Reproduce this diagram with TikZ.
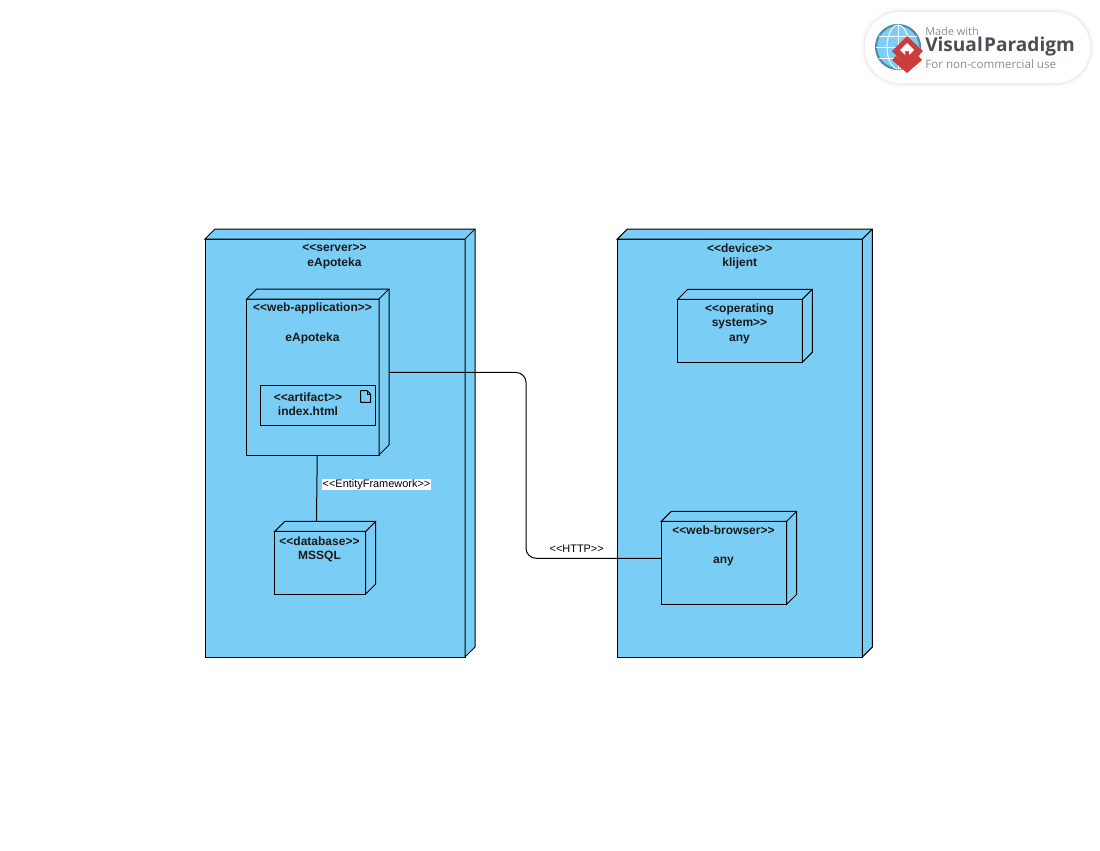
\documentclass[tikz,border=0pt]{standalone}
\usepackage{fontspec}
\usepackage{tikz}
\setmainfont{Liberation Sans}
\newfontfamily\logofont{Open Sans}
\definecolor{nodeblue}{HTML}{7ACEF5}
\definecolor{logored}{HTML}{CE3B3B}
\definecolor{logogray}{HTML}{8C8C8C}
\definecolor{logodark}{HTML}{4A4F55}
\definecolor{globeblue}{HTML}{7FCDF5}
\definecolor{globeedge}{HTML}{4F8DA3}
\newcommand{\px}{0.75pt}
\newcommand{\nodedepth}[1]{
  \draw[depth face] (#1.north west) -- ([shift={(10,-10)}]#1.north west) -- ([shift={(10,-10)}]#1.north east) -- ([shift={(10,-10)}]#1.south east) -- (#1.south east) -- (#1.north east) -- cycle;
  \draw[depth face] (#1.north east) -- ([shift={(10,-10)}]#1.north east);
}

\begin{document}
\begin{tikzpicture}[x=\px, y=-\px]
\tikzstyle{front face} = [rectangle, draw=black, fill=nodeblue, line width=0.75pt, inner sep=0pt, outer sep=0pt]
\tikzstyle{depth face} = [draw=black, fill=nodeblue, line width=0.75pt, line join=miter]
\tikzstyle{caption} = [align=center, font=\fontsize{9}{10.6}\selectfont\bfseries, inner sep=0pt, text=black!90]
\tikzstyle{link} = [draw=black, line width=0.75pt]
\tikzstyle{link text} = [font=\fontsize{8.2}{10}\selectfont, inner sep=0.4pt]

\useasboundingbox (0,0) rectangle (1100,850);

% watermark
\foreach \g/\o in {6/0.012, 4.5/0.015, 3/0.02, 1.5/0.025} {
  \draw[black, opacity=\o, line width=\g pt, rounded corners=26pt] (865,12) rectangle (1090,83);
}
\fill[white, rounded corners=26pt] (865,12) rectangle (1090,83);
\draw[fill=globeblue, draw=globeedge, line width=1.6pt] (898,47) circle [radius=22];
\draw[white, line width=0.7pt] (876,47) -- (920,47);
\draw[white, line width=0.7pt] (879,36) -- (917,36);
\draw[white, line width=0.7pt] (879,58) -- (917,58);
\draw[white, line width=0.7pt] (898,25) -- (898,69);
\draw[white, line width=0.7pt] (898,47) circle [x radius=11, y radius=22];
\fill[logored] (892,60) -- (907,73) -- (922,60) -- (918,56) -- (907,66) -- (896,56) -- cycle;
\fill[logored] (892,51) -- (907,36) -- (923,51) -- (907,67) -- cycle;
\fill[white] (900,50) -- (907,43) -- (914,50) -- (909,55) -- (909,51) -- (905,51) -- (905,55) -- cycle;
\node[anchor=west, inner sep=0pt, text=logogray, font=\logofont\fontsize{8.2}{10}\selectfont] (logotop) at (925,31) {Made with};
\node[anchor=west, inner sep=0pt, text=logodark, font=\logofont\bfseries\fontsize{14.3}{17}\selectfont] (logomain) at (925,47) {Visual\kern1pt Paradigm};
\node[anchor=west, inner sep=0pt, text=logogray, font=\logofont\fontsize{8.7}{10}\selectfont] (logobottom) at (925,64) {For non-commercial use};

% outer nodes
\node[front face, minimum width=260*\px, minimum height=418*\px] (server) at (335,448) {};
\nodedepth{server}
\node[front face, minimum width=245*\px, minimum height=418*\px] (device) at (739.8,448) {};
\nodedepth{device}

% inner nodes
\node[front face, minimum width=132.3*\px, minimum height=156*\px] (webapp) at (312.85,377) {};
\nodedepth{webapp}
\node[front face, minimum width=115*\px, minimum height=40*\px] (artifact) at (317.8,405.3) {};
\node[front face, minimum width=91*\px, minimum height=62.7*\px] (database) at (320.2,562.7) {};
\nodedepth{database}
\node[front face, minimum width=124.6*\px, minimum height=63*\px] (os) at (740,330.8) {};
\nodedepth{os}
\node[front face, minimum width=125.4*\px, minimum height=83*\px] (browser) at (724,562.8) {};
\nodedepth{browser}

% artifact icon
\draw[draw=black, fill=nodeblue, line width=0.7pt, line join=round] (360.7,390.7) -- (367.2,390.7) -- (370.7,394.2) -- (370.7,402.3) -- (360.7,402.3) -- cycle;
\draw[black, line width=0.6pt] (367.2,390.7) -- (367.2,394.2) -- (370.7,394.2);

% captions
\node[caption] (servertext) at (334.5,256.6) {<{}<server>{}>\\eApoteka};
\node[caption] (devicetext) at (739.8,256.6) {<{}<device>{}>\\klijent};
\node[caption] (webapptext) at (312.5,308.5) {<{}<web-application>{}>};
\node[caption] (webappname) at (312.5,338) {eApoteka};
\node[caption] (artifacttext) at (308,404) {<{}<artifact>{}>\\index.html};
\node[caption] (databasetext) at (319.5,549.3) {<{}<database>{}>\\MSSQL};
\node[caption] (ostext) at (739.5,323.8) {<{}<operating\\system>{}>\\any};
\node[caption] (browsertext) at (723.5,530.5) {<{}<web-browser>{}>};
\node[caption] (browsername) at (723.5,562) {any};

% connectors
\coordinate (busx) at (526,465);
\draw[link] ([xshift=3.3pt]webapp.south) -- ([xshift=-2.8pt, yshift=7.5pt]database.north);
\draw[link, rounded corners=7.5pt] ([xshift=7.5pt, yshift=3.4pt]webapp.east) -| (busx) |- ([yshift=3.4pt]browser.west);

\node[link text, fill=white] (eflabel) at (376.5,484.8) {<{}<EntityFramework>{}>};
\node[link text] (httplabel) at (576.7,548.5) {<{}<HTTP>{}>};
\end{tikzpicture}
\end{document}
